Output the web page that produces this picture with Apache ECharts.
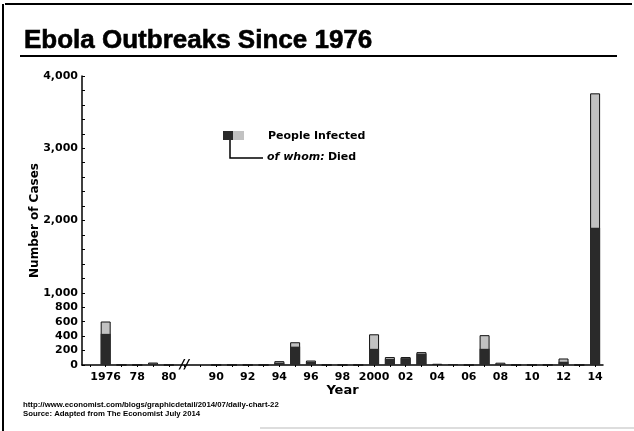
<!DOCTYPE html>
<html><head><meta charset="utf-8">
<script src="https://cdn.jsdelivr.net/npm/echarts@6/dist/echarts.min.js"></script>
<style>html,body{margin:0;padding:0;background:#fff}#c{width:634px;height:431px}</style>
</head><body><div id="c"></div>
<script>
// Categories (leading blank slot and two blank slots for the axis break 1980 // 1990)
const years = ['', '1976','1977','1978','1979','1980',' ','  ',
  '1990','1991','1992','1993','1994','1995','1996','1997','1998','1999',
  '2000','2001','2002','2003','2004','2005','2006','2007','2008','2009',
  '2010','2011','2012','2013','2014'];
const infected = [null, 602, 1, 0, 34, 0, null, null,
  0, 0, 0, 0, 53, 315, 62, 0, 0, 0,
  425, 110, 110, 178, 17, 12, 0, 413, 32, 0,
  0, 1, 90, 0, 3760];
const died = [null, 431, 1, 0, 22, 0, null, null,
  0, 0, 0, 0, 32, 254, 45, 0, 0, 0,
  224, 85, 95, 157, 7, 10, 0, 224, 15, 0,
  0, 1, 45, 0, 1900];
const yTickLabels = [0, 200, 400, 600, 800, 1000, 2000, 3000, 4000];

const chart = echarts.init(document.getElementById('c'), null, {renderer: 'canvas'});
const F = 'DejaVu Sans';
const option = {
  backgroundColor: '#fff',
  animation: false,
  title: {
    text: 'Ebola Outbreaks Since 1976',
    left: 19, top: 23,
    textStyle: {fontFamily: 'Liberation Sans', fontWeight: 900, fontSize: 26, color: '#000',
      textBorderColor: '#000', textBorderWidth: 0.6}
  },
  grid: {left: 82, right: 31, top: 76, bottom: 66},
  xAxis: {
    type: 'category',
    data: years,
    boundaryGap: true,
    axisLine: {lineStyle: {color: '#000', width: 1.5}},
    axisTick: {show: true, length: 2, interval: 0, alignWithLabel: true, lineStyle: {color: '#000'}},
    axisLabel: {
      interval: 0, margin: 7, color: '#000',
      fontFamily: F, fontWeight: 'bold', fontSize: 11,
      formatter: function (v) {
        if (!/^\d{4}$/.test(v)) return '';
        const y = +v;
        if (y % 2) return '';
        if (y === 1976 || y === 2000) return v;
        return v.slice(2);
      }
    },
    name: 'Year', nameLocation: 'middle', nameGap: 19, nameMoveOverlap: false,
    nameTextStyle: {fontFamily: F, fontWeight: 'bold', fontSize: 13, color: '#000'}
  },
  yAxis: {
    type: 'value', min: 0, max: 4000, interval: 200,
    splitLine: {show: false},
    axisLine: {show: true, lineStyle: {color: '#000', width: 1.5}},
    axisTick: {show: true, inside: true, length: 3, lineStyle: {color: '#000'}},
    axisLabel: {
      color: '#000', fontFamily: F, fontWeight: 'bold', fontSize: 11, margin: 4,
      formatter: function (v) { return yTickLabels.indexOf(v) >= 0 ? v.toLocaleString('en-US') : ''; }
    },
    name: 'Number of Cases', nameLocation: 'middle', nameGap: 41, nameRotate: 90, nameMoveOverlap: false,
    nameTextStyle: {fontFamily: F, fontWeight: 'bold', fontSize: 12, color: '#000'}
  },
  series: [
    {
      name: 'People Infected', type: 'bar', data: infected, barWidth: 10, barGap: '-100%',
      itemStyle: {color: '#c2c2c2', borderColor: '#111', borderWidth: 1}
    },
    {
      name: 'Died', type: 'bar', data: died, barWidth: 10,
      itemStyle: {color: '#2a2a2a'}
    }
  ],
  graphic: [
    {type: 'line', shape: {x1: 5, y1: 4, x2: 632, y2: 4}, style: {stroke: '#000', lineWidth: 2}},
    {type: 'line', shape: {x1: 3, y1: 4, x2: 3, y2: 431}, style: {stroke: '#000', lineWidth: 2}},
    {type: 'line', shape: {x1: 20, y1: 56, x2: 617, y2: 56}, style: {stroke: '#000', lineWidth: 2}},
    {type: 'line', shape: {x1: 260, y1: 428, x2: 634, y2: 428}, style: {stroke: '#bbb', lineWidth: 1}},
    {type: 'rect', shape: {x: 223, y: 131, width: 10, height: 9}, style: {fill: '#2a2a2a'}},
    {type: 'rect', shape: {x: 233, y: 131, width: 11, height: 9}, style: {fill: '#c2c2c2'}},
    {type: 'polyline', shape: {points: [[230, 140], [230, 158], [263, 158]]}, style: {stroke: '#000', lineWidth: 1.5, fill: null}},
    {type: 'text', x: 268, y: 136, style: {text: 'People Infected', fill: '#000', font: 'bold 11px "DejaVu Sans"', verticalAlign: 'middle'}},
    {type: 'text', x: 267, y: 157, style: {
      text: '{i|of whom:} {b|Died}', verticalAlign: 'middle',
      rich: {
        i: {fontFamily: F, fontStyle: 'italic', fontWeight: 'bold', fontSize: 11, fill: '#000'},
        b: {fontFamily: F, fontWeight: 'bold', fontSize: 11, fill: '#000'}
      }
    }},
    {type: 'text', x: 23, y: 405, style: {text: 'http://www.economist.com/blogs/graphicdetail/2014/07/daily-chart-22', fill: '#000', font: 'bold 7.8px "Liberation Sans"', verticalAlign: 'middle'}},
    {type: 'text', x: 23, y: 414, style: {text: 'Source: Adapted from The Economist July 2014', fill: '#000', font: 'bold 7.8px "Liberation Sans"', verticalAlign: 'middle'}}
  ]
};
chart.setOption(option);
// axis break mark between 1980 and 1990
const p = chart.convertToPixel({xAxisIndex: 0, yAxisIndex: 0}, [6, 0]);
chart.setOption({graphic: option.graphic.concat([
  {type: 'rect', shape: {x: p[0] - 6, y: p[1] - 2, width: 12, height: 4}, style: {fill: '#fff'}},
  {type: 'text', x: p[0], y: p[1], style: {text: '//', fill: '#000', font: 'bold italic 13px "DejaVu Sans"', align: 'center', verticalAlign: 'middle'}}
])});
</script></body></html>
